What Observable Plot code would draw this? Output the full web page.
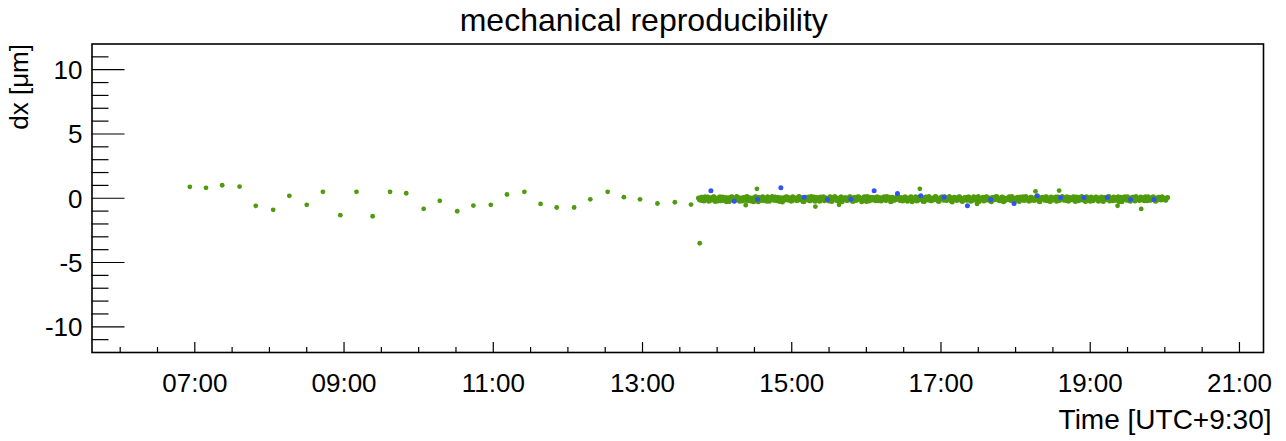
<!DOCTYPE html>
<html><head><meta charset="utf-8">
<script src="https://cdn.jsdelivr.net/npm/d3@7"></script>
<script src="https://cdn.jsdelivr.net/npm/@observablehq/plot@0.6"></script>
<style>body{margin:0;background:#fff}#chart svg{display:block}</style>
</head><body><div id="chart"></div>
<script>
// ---- data ----
const title = "mechanical reproducibility";
const xLabel = "Time [UTC+9:30]";
const yLabel = "dx [\u03bcm]";
const day = "2017-01-01";

const sparseTimes = ["06:56","07:09","07:22","07:36","07:49","08:03","08:16","08:30","08:43","08:57",
  "09:10","09:23","09:37","09:50","10:04","10:17","10:31","10:44","10:58","11:11",
  "11:25","11:38","11:51","12:05","12:18","12:32","12:45","12:58","13:12","13:26","13:39","13:46"];
const sparseValues = [0.89,0.81,1.01,0.91,-0.59,-0.90,0.19,-0.51,0.50,-1.32,
  0.50,-1.40,0.50,0.39,-0.82,-0.20,-1.01,-0.57,-0.51,0.29,
  0.50,-0.44,-0.72,-0.72,-0.08,0.50,0.08,-0.08,-0.41,-0.31,-0.49,-3.50];

const blueTimes = ["13:55:00","14:13:45","14:32:30","14:51:15","15:10:00","15:28:45","15:47:30","16:06:15","16:25:00","16:43:45",
  "17:02:30","17:21:15","17:40:00","17:58:45","18:17:30","18:36:15","18:55:00","19:13:45","19:32:30","19:51:15"];
const blueValues = [0.58,-0.23,-0.08,0.81,0.08,-0.10,-0.08,0.58,0.37,0.19,
  0.08,-0.59,-0.10,-0.41,0.19,0.05,0.05,0.05,-0.10,-0.10];

const outlierTimes = ["14:23","14:32","15:19","15:38","16:43","17:29","18:16","18:35","19:22","19:41"];
const outlierValues = [-0.54,0.73,-0.65,-0.51,0.73,-0.44,0.54,0.60,-0.59,-0.83];

// dense run: two interleaved sample streams
const denseStartA = "13:45:00";
const denseStartB = "13:45:45";
const denseStepSeconds = 90;
const denseValuesA = [
  0.02,-0.15,0.08,-0.22,-0.05,0.10,-0.18,-0.02,0.12,-0.25,-0.08,0.05,
  -0.20,0.09,-0.12,-0.28,0.03,-0.06,0.11,-0.19,-0.01,0.07,-0.24,-0.10,
  0.06,-0.16,0.13,-0.04,-0.21,0.01,-0.13,0.09,-0.27,-0.03,0.08,-0.17,
  -0.07,0.12,-0.23,0.00,-0.11,0.10,-0.19,-0.05,0.04,-0.30,-0.09,0.11,
  -0.14,0.02,-0.22,0.07,-0.03,-0.18,0.13,-0.08,-0.26,0.05,-0.12,0.09,
  -0.20,-0.02,0.10,-0.15,0.03,-0.24,-0.06,0.12,-0.11,-0.01,-0.21,0.08,
  -0.09,0.14,-0.17,-0.04,0.06,-0.28,-0.10,0.03,-0.16,0.11,-0.07,-0.23,
  0.04,-0.13,0.09,-0.02,-0.19,0.12,-0.25,-0.06,0.07,-0.14,0.01,-0.20,
  0.10,-0.08,-0.22,0.05,-0.12,0.13,-0.03,-0.27,0.08,-0.16,-0.05,0.11,
  -0.18,0.00,-0.10,0.09,-0.24,-0.04,0.12,-0.15,0.02,-0.21,0.07,-0.09,
  -0.01,-0.26,0.10,-0.13,0.04,-0.19,-0.06,0.13,-0.11,-0.23,0.06,-0.03,
  0.11,-0.17,-0.08,0.03,-0.29,0.08,-0.12,-0.02,0.12,-0.20,-0.07,0.05,
  -0.15,0.10,-0.24,-0.01,0.07,-0.18,0.14,-0.10,-0.04,-0.22,0.09,-0.13,
  0.02,-0.27,0.06,-0.09,0.12,-0.16,-0.03,0.10,-0.21,-0.06,0.04,-0.12,
  0.13,-0.19,-0.02,0.08,-0.25,-0.08,0.11,-0.14,0.01,-0.22,0.07,-0.05,
  -0.17,0.12,-0.10,-0.28,0.05,-0.03,0.10,-0.20,-0.07,0.09,-0.13,0.02,
  -0.24,0.08,-0.06,0.13,-0.16,-0.01,-0.21,0.06,-0.11,0.11,-0.26,-0.04,
  0.07,-0.14,0.03,-0.19,0.12,-0.09,-0.23,0.04,-0.02,0.10,-0.17,-0.07,
  0.09,-0.25,0.01,-0.12,0.14,-0.05,-0.20,0.06,-0.15,0.11,-0.03,-0.28,
  0.05,-0.10,0.12,-0.18,-0.04,0.08,-0.22,0.00,-0.13,0.10,-0.08,-0.19,
  0.03,0.12,-0.16,-0.06,0.09,-0.23,-0.02,0.07,-0.14,0.04,-0.11,0.01];
const denseValuesB = [
  -0.10,0.07,-0.19,0.11,-0.02,-0.24,0.04,-0.13,0.09,-0.06,-0.21,0.12,
  0.00,-0.17,0.05,-0.09,-0.26,0.10,-0.04,-0.15,0.13,-0.11,0.02,-0.22,
  -0.05,0.09,-0.20,0.03,-0.12,-0.28,0.11,-0.07,0.06,-0.18,0.12,-0.01,
  -0.23,0.05,-0.08,0.14,-0.16,-0.03,0.08,-0.25,-0.10,0.04,-0.14,0.10,
  0.01,-0.21,0.12,-0.06,-0.17,0.09,-0.11,0.03,-0.27,0.07,-0.02,-0.19,
  0.13,-0.08,-0.23,0.06,-0.13,0.10,-0.04,-0.20,0.02,-0.16,0.11,-0.26,
  -0.03,0.08,-0.12,-0.22,0.12,-0.07,0.04,-0.18,-0.01,0.09,-0.24,0.05,
  -0.15,0.11,-0.05,-0.27,0.07,-0.10,0.13,-0.21,-0.02,0.06,-0.13,0.10,
  -0.20,0.03,-0.09,0.12,-0.17,-0.04,0.08,-0.24,0.01,-0.12,0.14,-0.07,
  0.05,-0.22,0.10,-0.02,-0.15,0.07,-0.28,-0.06,0.11,-0.18,0.03,-0.10,
  -0.25,0.08,-0.04,0.13,-0.19,0.01,-0.12,0.09,-0.23,-0.05,0.12,-0.16,
  0.02,-0.11,0.14,-0.21,-0.03,0.06,-0.17,0.10,-0.08,-0.26,0.04,-0.13,
  0.09,-0.06,-0.20,0.11,-0.14,0.03,-0.25,-0.02,0.08,-0.16,0.12,-0.09,
  -0.22,0.05,-0.11,0.13,-0.04,-0.19,0.07,-0.28,0.00,-0.10,0.11,-0.17,
  0.06,-0.24,0.02,-0.12,0.10,-0.07,-0.18,0.13,-0.03,-0.21,0.08,-0.14,
  -0.01,0.11,-0.23,-0.05,0.07,-0.16,0.12,-0.09,-0.26,0.04,-0.12,0.09,
  0.10,-0.18,-0.02,0.06,-0.13,0.12,-0.22,-0.06,0.03,-0.15,0.09,-0.20,
  -0.11,0.13,-0.07,-0.25,0.05,-0.01,0.10,-0.19,-0.04,0.08,-0.23,0.02,
  -0.16,0.06,-0.10,0.12,-0.21,-0.03,0.09,-0.14,0.04,-0.27,0.07,-0.08,
  0.11,-0.15,-0.01,-0.23,0.08,-0.12,0.13,-0.06,-0.18,0.05,-0.09,0.12,
  -0.20,0.04,-0.13,0.10,-0.05,-0.17,0.07,-0.10,0.11,-0.02,-0.15,0.06];

const xTickLabels = ["07:00","09:00","11:00","13:00","15:00","17:00","19:00","21:00"];
const yTickValues = [-10,-5,0,5,10];
const xDomain = ["05:37:20","21:19:20"];
const yDomain = [-12,12];

// ---- build ----
const parse = t => new Date(`${day}T${t.length === 5 ? t + ":00" : t}Z`);
const sparse = sparseTimes.map((t,i) => ({t: parse(t), v: sparseValues[i]}));
const blue = blueTimes.map((t,i) => ({t: parse(t), v: blueValues[i]}));
const outliers = outlierTimes.map((t,i) => ({t: parse(t), v: outlierValues[i]}));
const stream = (start, vals) => vals.map((v,i) => ({t: new Date(+parse(start) + i*denseStepSeconds*1000), v}));
const dense = stream(denseStartA, denseValuesA).concat(stream(denseStartB, denseValuesB));

const xMajor = xTickLabels.map(parse);
const xMinor = d3.utcMinute.every(30).range(parse("06:00"), parse("21:01")).filter(d => !xMajor.some(m => +m === +d));
const yMinor = d3.range(-11, 12).filter(d => !yTickValues.includes(d));

const W = 1286, H = 441, mL = 91.5, mR = 23, mT = 43.5, mB = 89;
const fw = W - mL - mR, fh = H - mT - mB;
const green = "#4f9b0c", blueC = "#3153f5";
const font = "'Liberation Sans', Arial, Helvetica, sans-serif";

const chart = Plot.plot({
  width: W, height: H,
  marginLeft: mL, marginRight: mR, marginTop: mT, marginBottom: mB,
  style: {fontFamily: font, background: "white", overflow: "visible", color: "black"},
  x: {type: "utc", domain: xDomain.map(parse), axis: null},
  y: {domain: yDomain, axis: null},
  marks: [
    Plot.dot(sparse, {x: "t", y: "v", r: 2.4, fill: green, stroke: null}),
    Plot.dot(dense, {x: "t", y: "v", r: 2.5, fill: green, stroke: null}),
    Plot.dot(outliers, {x: "t", y: "v", r: 2.4, fill: green, stroke: null}),
    Plot.dot(blue, {x: "t", y: "v", r: 2.5, fill: blueC, stroke: null}),
    Plot.tickY(yTickValues, {y: d => d, insetRight: fw - 33, stroke: "black", strokeWidth: 1.2}),
    Plot.tickY(yMinor, {y: d => d, insetRight: fw - 17, stroke: "black", strokeWidth: 1.2}),
    Plot.tickX(xMajor, {x: d => d, insetTop: fh - 10, stroke: "black", strokeWidth: 1.2}),
    Plot.tickX(xMinor, {x: d => d, insetTop: fh - 5, stroke: "black", strokeWidth: 1.2}),
    Plot.frame({stroke: "black", strokeWidth: 1.6}),
    Plot.text(yTickValues, {y: d => d, text: d => String(d), frameAnchor: "left", textAnchor: "end", lineAnchor: "bottom", dx: -9.5, dy: 9.5, fontSize: 26, fill: "black"}),
    Plot.text(xTickLabels, {x: d => parse(d), text: d => d, frameAnchor: "bottom", lineAnchor: "bottom", dy: 39, fontSize: 26, fill: "black"}),
    Plot.text([title], {text: d => d, frameAnchor: "top", lineAnchor: "bottom", dx: -34, dy: -13.5, fontSize: 32, fill: "black"}),
    Plot.text([yLabel], {text: d => d, frameAnchor: "top-left", rotate: -90, textAnchor: "end", lineAnchor: "middle", dx: -72.5, dy: 0, fontSize: 26, fill: "black"}),
    Plot.text([xLabel], {text: d => d, frameAnchor: "bottom-right", textAnchor: "end", lineAnchor: "bottom", dx: 8, dy: 76, fontSize: 28, fill: "black"})
  ]
});
document.getElementById("chart").appendChild(chart);
</script>
</body></html>
